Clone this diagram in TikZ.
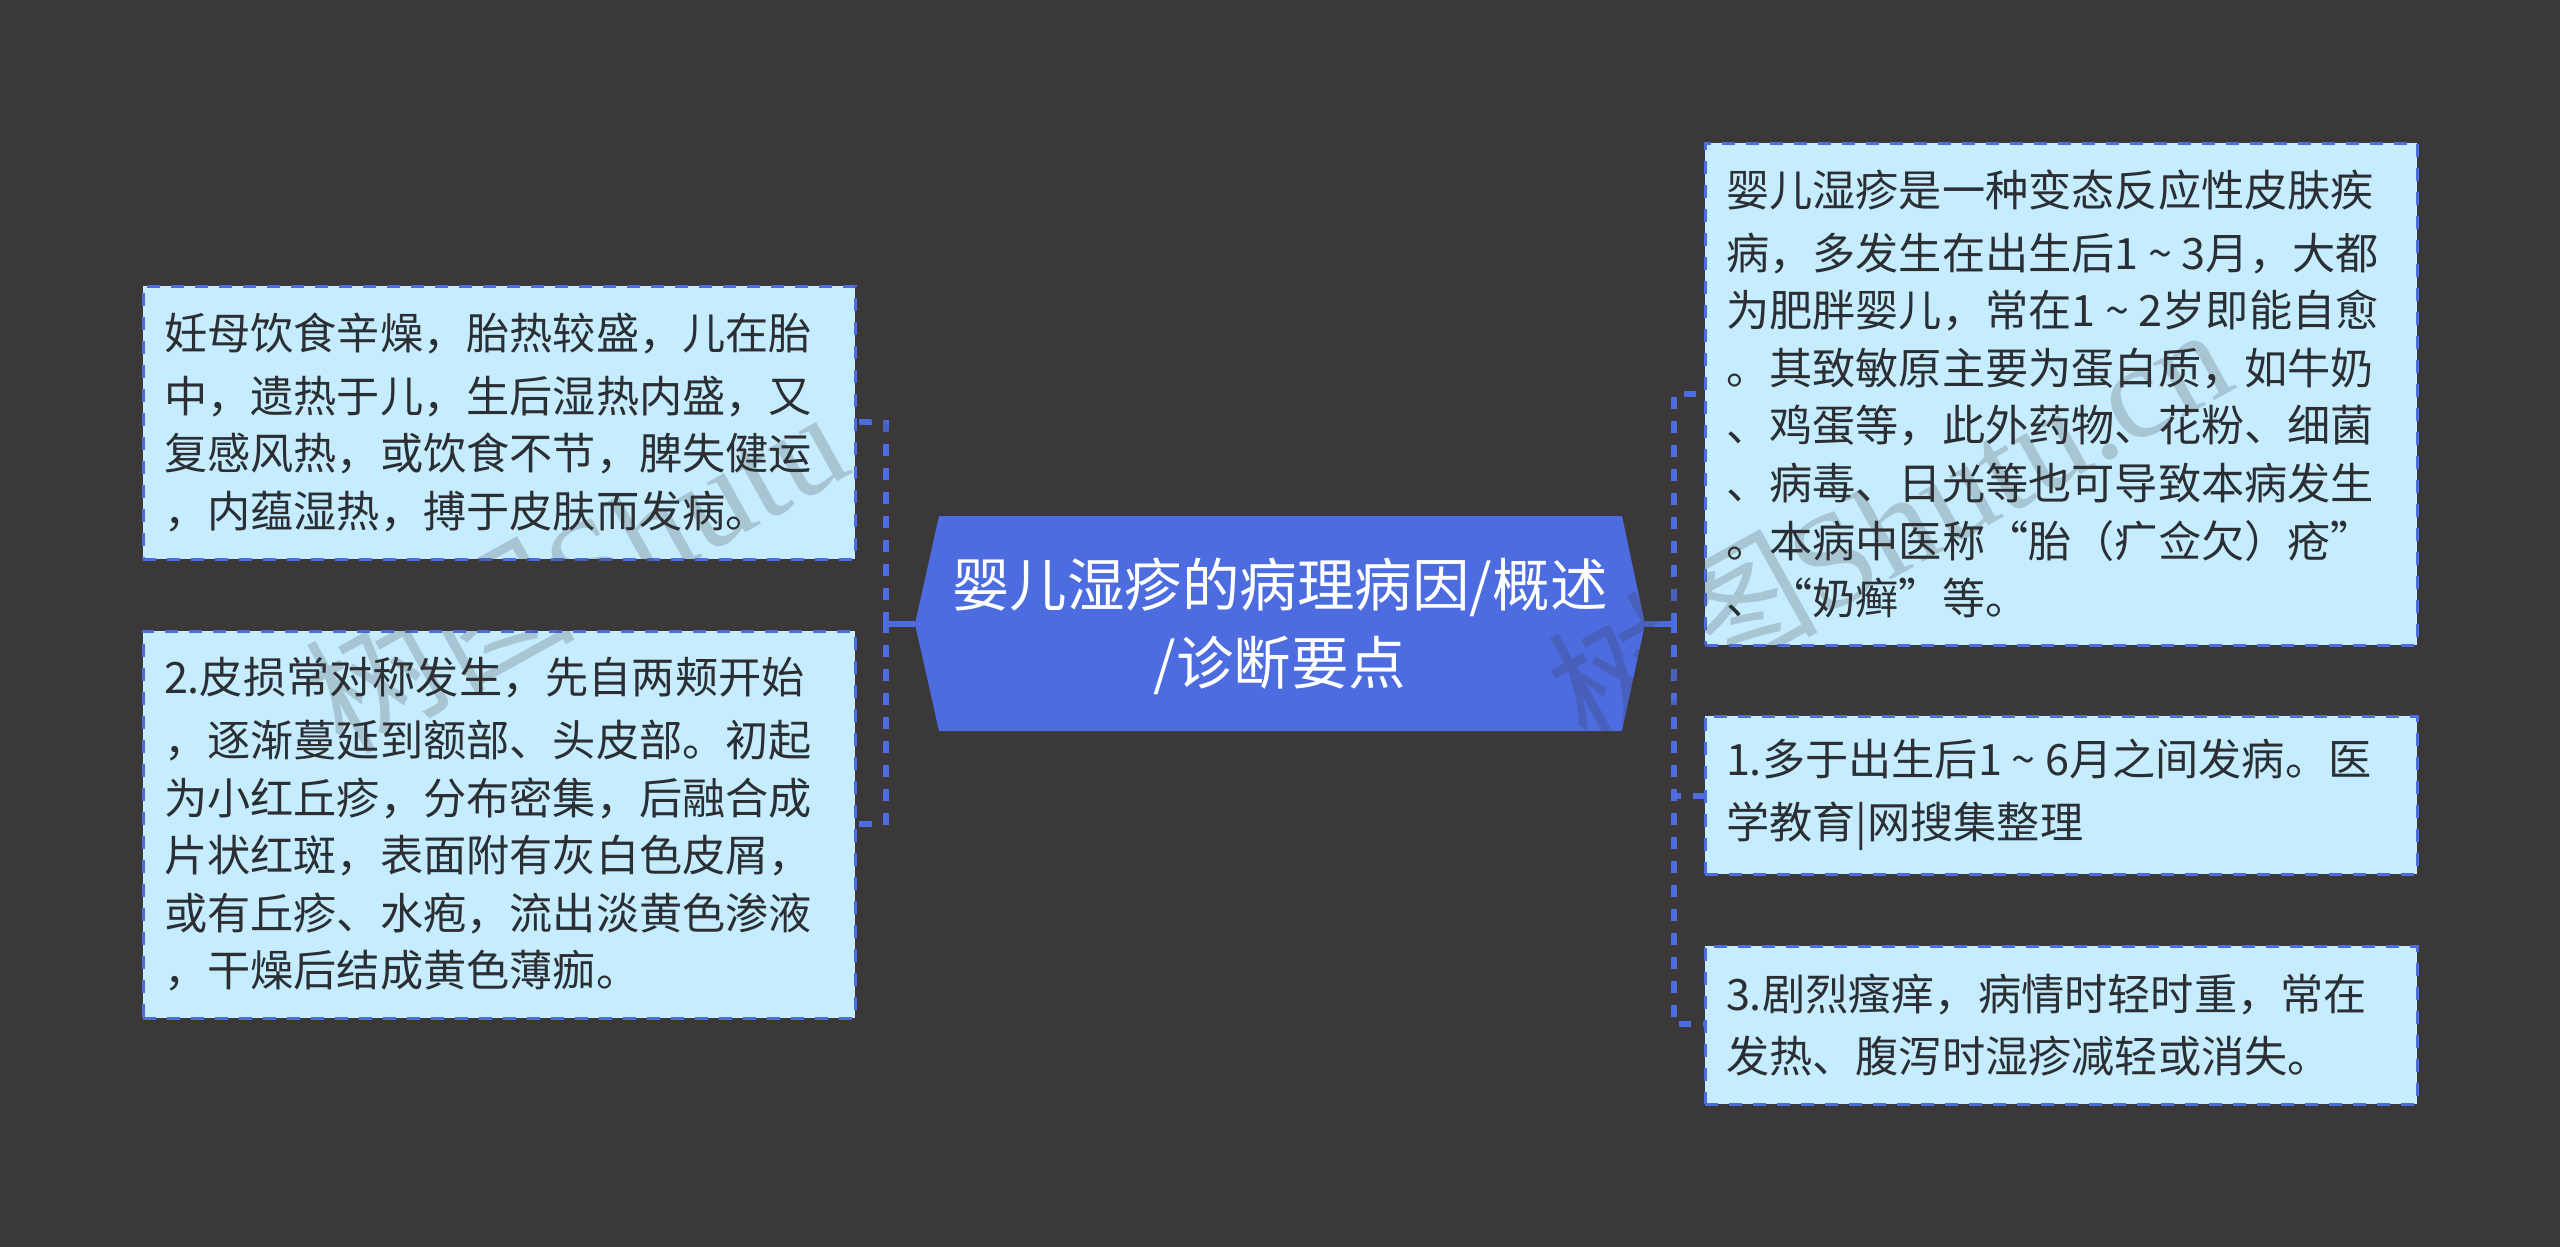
\documentclass[tikz,border=0pt]{standalone}
\usepackage{fontspec}
\setmainfont{Noto Sans CJK SC}
\newfontfamily\wmserif{Liberation Serif}
\setlength{\lineskiplimit}{-100pt}
\newcommand{\tildegap}{\makebox[43.2pt]{\char"7E}}
\definecolor{bgc}{HTML}{3A3839}
\definecolor{rootc}{HTML}{4C6CE0}
\definecolor{boxc}{HTML}{C6EDFF}
\definecolor{txtc}{HTML}{2B2F33}
\tikzset{
  leaf/.style={rectangle,draw=rootc,fill=boxc,line width=3pt,dash pattern=on 13pt off 11pt,outer sep=0pt,
    inner xsep=21pt,inner ysep=0pt,text width=670pt,align=left,text=txtc,
    font=\fontsize{43.2pt}{57.6pt}\selectfont,anchor=center,
    execute at begin node={\vspace*{5pt}}},
  rootlabel/.style={text=white,align=center,inner sep=0pt,font=\fontsize{57.5pt}{78pt}\selectfont},
  rootshape/.style={fill=rootc},
  conn/.style={draw=rootc,line width=5.5pt},
  busline/.style={conn,dash pattern=on 12pt off 12pt},
  wmark/.style={text=bgc,opacity=0.22,rotate=29,inner sep=0pt,font=\fontsize{135pt}{135pt}\selectfont}
}
\begin{document}
\begin{tikzpicture}[x=1pt,y=-1pt]
\useasboundingbox (0,0) rectangle (2560,1247);
\fill[bgc] (0,0) rectangle (2560,1247);

\node[leaf,minimum height=273pt] (l1) at (499,422.5) {妊母饮食辛燥，胎热较盛，儿在胎\\中，遗热于儿，生后湿热内盛，又\\复感风热，或饮食不节，脾失健运\\，内蕴湿热，搏于皮肤而发病。};
\node[leaf,minimum height=387pt] (l2) at (499,824.5) {2.皮损常对称发生，先自两颊开始\\，逐渐蔓延到额部、头皮部。初起\\为小红丘疹，分布密集，后融合成\\片状红斑，表面附有灰白色皮屑，\\或有丘疹、水疱，流出淡黄色渗液\\，干燥后结成黄色薄痂。};
\node[leaf,minimum height=502pt] (r1) at (2061,394) {婴儿湿疹是一种变态反应性皮肤疾\\病，多发生在出生后1\tildegap 3月，大都\\为肥胖婴儿，常在1\tildegap 2岁即能自愈\\。其致敏原主要为蛋白质，如牛奶\\、鸡蛋等，此外药物、花粉、细菌\\、病毒、日光等也可导致本病发生\\。本病中医称“胎（疒佥欠）疮”\\、“奶癣”等。};
\node[leaf,minimum height=158pt] (r2) at (2061,795) {1.多于出生后1\tildegap 6月之间发病。医\\学教育|网搜集整理};
\node[leaf,minimum height=158pt] (r3) at (2061,1025) {3.剧烈瘙痒，病情时轻时重，常在\\发热、腹泻时湿疹减轻或消失。};

\coordinate (rootL) at (915,624);
\coordinate (rootR) at (1645,624);
\fill[rootshape] (rootL) -- (939,516) -- (1622,516) -- (rootR) -- (1622,731) -- (939,731) -- cycle;
\node[rootlabel] (root) at (1280,626) {婴儿湿疹的病理病因/概述\\/诊断要点};

\coordinate (bl) at (886,624);
\coordinate (bltop) at (886,420);
\coordinate (blmid) at (886,621);
\coordinate (blbot) at (886,826);
\coordinate (br) at (1674,624);
\coordinate (brtop) at (1674,397);
\coordinate (brmid) at (1674,621);
\coordinate (brbot) at (1674,1026);
\coordinate (blt) at (886,422);
\coordinate (blb) at (886,824);
\coordinate (brt) at (1674,394);
\coordinate (brm) at (1674,796);
\coordinate (brb) at (1674,1024);

\draw[conn] (rootL) -- (bl);
\draw[conn] (rootR) -- (br);
\draw[busline] (bltop) -- (blmid);
\draw[busline] (blmid) -- (blbot);
\draw[busline] (brtop) -- (brmid);
\draw[busline] (brmid) -- (brbot);
\draw[conn,dash pattern=on 13pt off 14pt,dash phase=13pt] (blt) -- (blt -| l1.east);
\draw[conn,dash pattern=on 13pt off 14pt,dash phase=13pt] (blb) -- (blb -| l2.east);
\draw[conn,dash pattern=on 12pt off 12pt,dash phase=14pt] (brt) -- (brt -| r1.west);
\draw[conn,dash pattern=on 12pt off 12pt,dash phase=5pt] (brm) -- (brm -| r2.west);
\draw[conn,dash pattern=on 12pt off 12pt,dash phase=19pt] (brb) -- (brb -| r3.west);

\node[wmark] (wm1) at (645,530) {树图{\wmserif Shutu.cn}};
\node[wmark] (wm2) at (1888,523) {树图{\wmserif Shutu.cn}};
\end{tikzpicture}
\end{document}
